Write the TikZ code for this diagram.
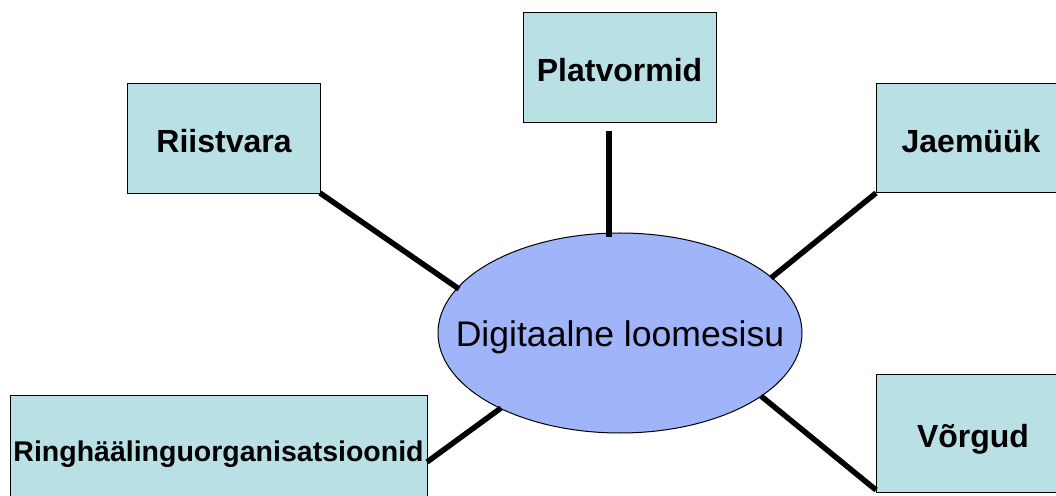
\documentclass[tikz,border=0pt]{standalone}
\usepackage{fontspec}
\setmainfont{Liberation Sans}
\usetikzlibrary{shapes.geometric}
\definecolor{boxfill}{RGB}{185,224,228}
\definecolor{ellfill}{RGB}{160,180,250}
\begin{document}
\begin{tikzpicture}[x=1pt,y=1pt,
  topic/.style={draw=black, line width=1pt, fill=boxfill, inner sep=0pt,
    text height=28pt, text depth=0pt,
    font=\fontsize{32}{38}\selectfont\bfseries},
  hub/.style={ellipse, draw=black, line width=1pt, fill=ellfill, inner xsep=-45pt, inner ysep=0pt,
    text height=33pt, text depth=5pt,
    minimum width=364pt, minimum height=200pt, font=\fontsize{35.6}{42}\selectfont},
  link/.style={line width=5.5pt}]
\useasboundingbox (0,0) rectangle (1056,495);
\begin{scope}
\clip (0,0) rectangle (1056,495);
\node[hub] (hub) at (620,162) {Digitaalne loomesisu};
\node[topic, minimum width=193pt, minimum height=110pt] (plat) at (619.5,427) {Platvormid};
\node[topic, minimum width=193pt, minimum height=110pt] (riist) at (224,356.5) {Riistvara};
\node[topic, minimum width=190pt, minimum height=109pt] (jaem) at (971,356.5) {Jaemüük};
\node[topic, minimum width=194pt, minimum height=117pt] (vorg) at (973,61.5) {Võrgud};
\node[topic, minimum width=417pt, minimum height=102pt, font=\fontsize{28.5}{34}\selectfont\bfseries] (ring) at (218.5,48) {Ringhäälinguorganisatsioonid};
\coordinate (pA) at (609,364);
\coordinate (pB) at (609,258);
\coordinate (rA) at (320,302);
\coordinate (rB) at (459,206);
\coordinate (jA) at (876,302);
\coordinate (jB) at (771,217);
\coordinate (gA) at (427,33);
\coordinate (gB) at (501,87);
\coordinate (vA) at (761,99);
\coordinate (vB) at (876,5);
\draw[link] (pA) -- (pB);
\draw[link] (rA) -- (rB);
\draw[link] (jA) -- (jB);
\draw[link] (gA) -- (gB);
\draw[link] (vA) -- (vB);
\end{scope}
\end{tikzpicture}
\end{document}
